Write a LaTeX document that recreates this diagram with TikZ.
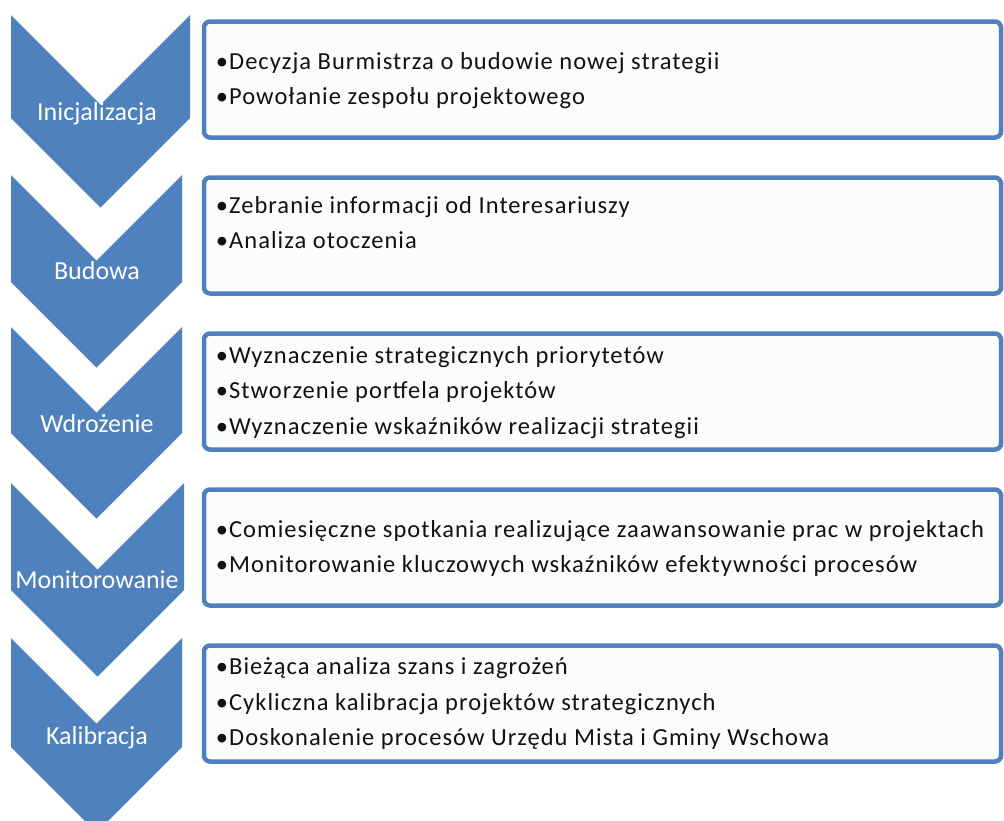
\documentclass[tikz,border=0pt]{standalone}
\usepackage{fontspec}
\setmainfont{Carlito}
\newfontfamily\listfont[LetterSpace=4.2]{Carlito}
\usetikzlibrary{positioning}

\definecolor{stageblue}{RGB}{79,129,189}
\definecolor{listfill}{RGB}{252,252,252}
\definecolor{listtext}{RGB}{17,17,17}

\begin{document}
\begin{tikzpicture}[x=1pt,y=-1pt,node distance=156pt]
  \tikzstyle{chevron}=[fill=stageblue,draw=none]
  \tikzstyle{stage}=[text=white,font=\fontsize{26}{30}\selectfont,
                     text height=18pt,text depth=5pt,inner sep=0pt]
  \tikzstyle{listbox}=[draw=stageblue,line width=4.5pt,rounded corners=6pt,
                       fill=listfill,minimum width=797pt,minimum height=116pt]
  \tikzstyle{tasks}=[text=listtext,font=\listfont\fontsize{24.5}{35.5}\selectfont,
                     align=left,inner sep=0pt]

  \useasboundingbox (0,0) rectangle (1004,820);
  \clip (0,0) rectangle (1004,820);

  % chevrons: top, right edge, side height
  \foreach \ytop/\xr/\hs in {15/190/103,175/182/107,327/182/106,483/184/107,638/182/109}
    \fill[chevron] (11,\ytop) -- ({(11+\xr)/2},{\ytop+(\xr-11)/2}) -- (\xr,\ytop)
      -- (\xr,\ytop+\hs) -- ({(11+\xr)/2},{\ytop+\hs+(\xr-11)/2}) -- (11,\ytop+\hs) -- cycle;

  \node[stage]   (ini)    at (97,113.5)   {Inicjalizacja};
  \node[stage]   (bud)    [below of=ini,yshift=-3pt]  {Budowa};
  \node[stage]   (wdr)    [below of=bud,yshift=3pt]   {Wdrożenie};
  \node[stage]   (mon)    [below of=wdr]  {Monitorowanie};
  \node[stage]   (kal)    [below of=mon]  {Kalibracja};

  \node[listbox] (inibox) at (602.5,79.5)    {};
  \node[listbox] (budbox) [below of=inibox] {};
  \node[listbox] (wdrbox) [below of=budbox] {};
  \node[listbox] (monbox) [below of=wdrbox] {};
  \node[listbox] (kalbox) [below of=monbox] {};

  \node[tasks] (inilist) [right=14pt of inibox.west,yshift=-1pt]
    {•Decyzja Burmistrza o budowie nowej strategii\\
     •Powołanie zespołu projektowego};
  \node[tasks] (budlist) [right=14pt of budbox.west,yshift=13pt]
    {•Zebranie informacji od Interesariuszy\\
     •Analiza otoczenia};
  \node[tasks] (wdrlist) [right=14pt of wdrbox.west,yshift=-1pt]
    {•Wyznaczenie strategicznych priorytetów\\
     •Stworzenie portfela projektów\\
     •Wyznaczenie wskaźników realizacji strategii};
  \node[tasks] (monlist) [right=14pt of monbox.west,yshift=-1pt]
    {•Comiesięczne spotkania realizujące zaawansowanie prac w projektach\\
     •Monitorowanie kluczowych wskaźników efektywności procesów};
  \node[tasks] (kallist) [right=14pt of kalbox.west]
    {•Bieżąca analiza szans i zagrożeń\\
     •Cykliczna kalibracja projektów strategicznych\\
     •Doskonalenie procesów Urzędu Mista i Gminy Wschowa};
\end{tikzpicture}
\end{document}
